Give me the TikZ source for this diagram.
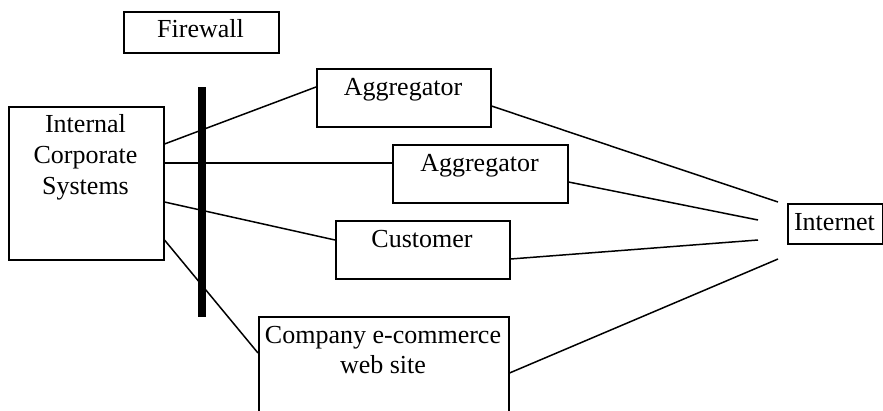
\documentclass[tikz,border=0pt]{standalone}
\usepackage{fontspec}
\setmainfont{Liberation Serif}
\begin{document}
\begin{tikzpicture}[x=1pt,y=1pt,
  box/.style={draw, line width=1.5pt, rectangle, inner sep=0pt, anchor=north west},
  lbl/.style={inner sep=0pt, anchor=base, font=\fontsize{26}{31}\selectfont},
  wire/.style={line width=1.5pt},
  wall/.style={line width=8pt}]
\useasboundingbox (0,0) rectangle (883,-410);

% boxes
\node[box, minimum width=155pt, minimum height=41pt]  (fw)   at (123,-11)  {};
\node[box, minimum width=155pt, minimum height=153pt] (ics)  at (8,-106)   {};
\node[box, minimum width=174pt, minimum height=58pt]  (agg1) at (316,-68)  {};
\node[box, minimum width=175pt, minimum height=58pt]  (agg2) at (392,-144) {};
\node[box, minimum width=174pt, minimum height=58pt]  (cust) at (335,-220) {};
\node[box, minimum width=250pt, minimum height=120pt] (web)  at (258,-316) {};
\node[box, minimum width=95pt,  minimum height=40pt]  (net)  at (787,-203) {};

% labels
\node[lbl] (fwT)   at (200.5,-37) {Firewall};
\node[lbl] (icsT1) at (85.5,-132) {Internal};
\node[lbl] (icsT2) at (85.5,-163) {Corporate};
\node[lbl] (icsT3) at (85.5,-194) {Systems};
\node[lbl] (agg1T) at (403,-95)   {Aggregator};
\node[lbl] (agg2T) at (479.5,-171) {Aggregator};
\node[lbl] (custT) at (422,-247)  {Customer};
\node[lbl] (webT1) at (383,-343)  {Company e-commerce};
\node[lbl] (webT2) at (383,-373)  {web site};
\node[lbl] (netT)  at (834.5,-230) {Internet};

% firewall bar
\coordinate (wallTop) at (202,-87);
\coordinate (wallBot) at (202,-317);
\draw[wall] (wallTop) -- (wallBot);

% free ends of the links towards the Internet
\coordinate (i1) at (778,-202);
\coordinate (i2) at (758,-220);
\coordinate (i3) at (758,-240);
\coordinate (i4) at (778,-259);

% internal systems to the outside parties
\draw[wire] ([yshift=-38pt]ics.north east) -- ([yshift=-19pt]agg1.north west);
\draw[wire] ([yshift=-57pt]ics.north east) -- ([yshift=-19pt]agg2.north west);
\draw[wire] ([yshift=-96pt]ics.north east) -- ([yshift=-20pt]cust.north west);
\draw[wire] ([yshift=-134pt]ics.north east) -- ([yshift=-37pt]web.north west);

% outside parties to the Internet
\draw[wire] ([yshift=-38pt]agg1.north east) -- (i1);
\draw[wire] ([yshift=-38pt]agg2.north east) -- (i2);
\draw[wire] ([yshift=-39pt]cust.north east) -- (i3);
\draw[wire] ([yshift=-57pt]web.north east) -- (i4);
\end{tikzpicture}
\end{document}
